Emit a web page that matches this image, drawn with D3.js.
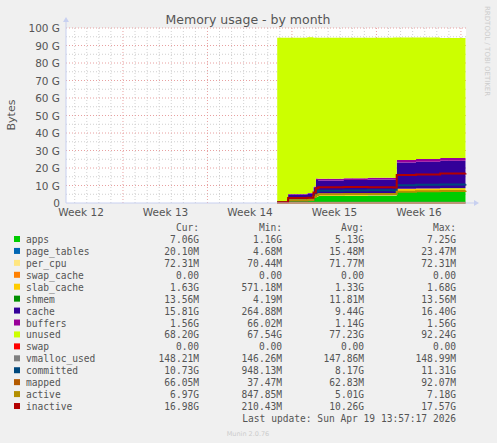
<!DOCTYPE html>
<html><head><meta charset="utf-8">
<script src="https://cdn.jsdelivr.net/npm/d3@7"></script>
<style>
body { margin: 0; background: #f0f0f0; }
text { font-family: "DejaVu Sans", sans-serif; }
.mono { font-family: "DejaVu Sans Mono", monospace; font-size: 9.6px; fill: #555; }
</style></head>
<body>
<script>
// sample times, in days since the left edge of the graph
const times = [17.5, 18.4, 20.0, 20.5, 20.7, 20.9, 23.0, 25.0, 27.1, 27.4, 29.0, 31.0, 33.1];

// stacked areas, in G
const apps       = [0.3, 1.8, 1.9, 3.0, 3.5, 4.0, 4.1, 4.2, 4.3, 6.5, 6.6, 6.8, 7.0];
const pageTables = [0.01, 0.01, 0.01, 0.015, 0.015, 0.015, 0.015, 0.015, 0.015, 0.02, 0.02, 0.02, 0.02];
const perCpu     = [0.07, 0.07, 0.07, 0.07, 0.07, 0.07, 0.07, 0.07, 0.07, 0.07, 0.07, 0.07, 0.07];
const swapCache  = [0, 0, 0, 0, 0, 0, 0, 0, 0, 0, 0, 0, 0];
const slabCache  = [0.2, 0.5, 0.6, 0.9, 1.1, 1.3, 1.3, 1.3, 1.35, 1.6, 1.6, 1.6, 1.63];
const shmem      = [0.004, 0.008, 0.01, 0.01, 0.012, 0.012, 0.012, 0.012, 0.012, 0.013, 0.013, 0.013, 0.014];
const cache      = [0.5, 2.5, 2.8, 5.0, 8.5, 7.5, 7.6, 7.8, 7.5, 15.0, 15.3, 15.6, 15.8];
const buffers    = [0.1, 0.2, 0.3, 0.5, 0.8, 0.9, 1.0, 1.0, 1.1, 1.4, 1.5, 1.55, 1.56];
const unused     = [93.3, 89.4, 89.0, 85.0, 80.5, 80.7, 80.4, 80.1, 80.2, 70.0, 69.4, 68.7, 68.2];
const swap       = [0, 0, 0, 0, 0, 0, 0, 0, 0, 0, 0, 0, 0];

// lines, in G
const vmallocUsed = [0.146, 0.147, 0.147, 0.147, 0.148, 0.148, 0.148, 0.148, 0.148, 0.148, 0.148, 0.148, 0.148];
const committed   = [0.5, 1.5, 1.8, 4.0, 6.5, 7.0, 7.2, 7.3, 7.2, 10.2, 10.4, 10.6, 10.73];
const mapped      = [0.04, 0.06, 0.06, 0.06, 0.06, 0.06, 0.06, 0.06, 0.06, 0.066, 0.066, 0.066, 0.066];
const active      = [0.3, 1.5, 1.7, 3.5, 4.5, 5.0, 5.1, 5.2, 5.2, 6.5, 6.7, 6.9, 6.97];
const inactive    = [0.5, 2.8, 3.0, 6.0, 8.5, 9.0, 9.1, 9.0, 8.8, 16.0, 16.3, 16.8, 16.98];

const weekLabels = ["Week 12", "Week 13", "Week 14", "Week 15", "Week 16"];
const weekLabelDays = [1.25, 8.25, 15.25, 22.25, 29.25];
const yTicks = [0, 10, 20, 30, 40, 50, 60, 70, 80, 90, 100];

const series = [
  { name: "apps", color: "#00CC00", v: apps, kind: "area", stats: ["7.06G", "1.16G", "5.13G", "7.25G"] },
  { name: "page_tables", color: "#0066B3", v: pageTables, kind: "area", stats: ["20.10M", "4.68M", "15.48M", "23.47M"] },
  { name: "per_cpu", color: "#FFE680", v: perCpu, kind: "area", stats: ["72.31M", "70.44M", "71.77M", "72.31M"] },
  { name: "swap_cache", color: "#FF8000", v: swapCache, kind: "area", stats: ["0.00", "0.00", "0.00", "0.00"] },
  { name: "slab_cache", color: "#FFCC00", v: slabCache, kind: "area", stats: ["1.63G", "571.18M", "1.33G", "1.68G"] },
  { name: "shmem", color: "#008F00", v: shmem, kind: "area", stats: ["13.56M", "4.19M", "11.81M", "13.56M"] },
  { name: "cache", color: "#330099", v: cache, kind: "area", stats: ["15.81G", "264.88M", "9.44G", "16.40G"] },
  { name: "buffers", color: "#990099", v: buffers, kind: "area", stats: ["1.56G", "66.02M", "1.14G", "1.56G"] },
  { name: "unused", color: "#CCFF00", v: unused, kind: "area", stats: ["68.20G", "67.54G", "77.23G", "92.24G"] },
  { name: "swap", color: "#FF0000", v: swap, kind: "area", stats: ["0.00", "0.00", "0.00", "0.00"] },
  { name: "vmalloc_used", color: "#808080", v: vmallocUsed, kind: "line", stats: ["148.21M", "146.26M", "147.86M", "148.99M"] },
  { name: "committed", color: "#00487D", v: committed, kind: "line", stats: ["10.73G", "948.13M", "8.17G", "11.31G"] },
  { name: "mapped", color: "#B35A00", v: mapped, kind: "line", stats: ["66.05M", "37.47M", "62.83M", "92.07M"] },
  { name: "active", color: "#B38F00", v: active, kind: "line", stats: ["6.97G", "847.85M", "5.01G", "7.18G"] },
  { name: "inactive", color: "#B30000", v: inactive, kind: "line", stats: ["16.98G", "210.43M", "10.26G", "17.57G"] }
];

const W = 497, H = 443;
const M = { left: 66, top: 28, right: 466, bottom: 203 };

const svg = d3.select("body").append("svg").attr("width", W).attr("height", H);

const x = d3.scaleLinear().domain([0, 33.14]).range([M.left, M.right]);
const y = d3.scaleLinear().domain([0, 100]).range([M.bottom, M.top]);

// plot background
svg.append("rect").attr("x", M.left).attr("y", M.top)
  .attr("width", M.right - M.left).attr("height", M.bottom - M.top).attr("fill", "white");

// grid
const grid = svg.append("g");
for (let d = 4.72 - 4; d < 33.14; d += 1) {
  const major = Math.abs(((d - 4.72) % 7 + 7) % 7) < 0.01;
  grid.append("line").attr("x1", x(d)).attr("x2", x(d)).attr("y1", M.top).attr("y2", M.bottom)
    .attr("stroke", major ? "#e8a0a0" : "#d0d0d0").attr("stroke-dasharray", "1,2");
}
for (let g = 5; g <= 100; g += 5) {
  grid.append("line").attr("x1", M.left).attr("x2", M.right).attr("y1", y(g)).attr("y2", y(g))
    .attr("stroke", g % 10 === 0 ? "#e8a0a0" : "#d0d0d0").attr("stroke-dasharray", "1,2");
}

// stacked areas
const rows = times.map((t, i) => {
  const r = { t };
  series.forEach(s => { r[s.name] = s.v[i]; });
  return r;
});
const areaKeys = series.filter(s => s.kind === "area").map(s => s.name);
const stacked = d3.stack().keys(areaKeys)(rows);
const area = d3.area().curve(d3.curveStepAfter)
  .x(d => x(d.data.t)).y0(d => y(d[0])).y1(d => y(d[1]));
stacked.forEach((layer, i) => {
  svg.append("path").datum(layer).attr("d", area)
    .attr("fill", series.find(s => s.name === areaKeys[i]).color);
});

// lines
const line = d3.line().curve(d3.curveStepAfter);
series.filter(s => s.kind === "line").forEach(s => {
  svg.append("path").datum(s.v.map((v, i) => [x(times[i]), y(v)]))
    .attr("d", line).attr("fill", "none").attr("stroke", s.color).attr("stroke-width", 2);
});

// axes
svg.append("line").attr("x1", M.left).attr("x2", M.right + 8).attr("y1", M.bottom).attr("y2", M.bottom)
  .attr("stroke", "#c8d0f0");
svg.append("line").attr("x1", M.left).attr("x2", M.left).attr("y1", M.top - 6).attr("y2", M.bottom)
  .attr("stroke", "#c8d0f0");
svg.append("path").attr("d", `M${M.right + 8},${M.bottom - 3}L${M.right + 13},${M.bottom}L${M.right + 8},${M.bottom + 3}Z`).attr("fill", "#c8d0f0");
svg.append("path").attr("d", `M${M.left - 3},${M.top - 6}L${M.left},${M.top - 11}L${M.left + 3},${M.top - 6}Z`).attr("fill", "#c8d0f0");

yTicks.forEach(t => {
  svg.append("text").attr("x", M.left - 6).attr("y", y(t) + 4).attr("text-anchor", "end")
    .attr("font-size", 10.5).attr("fill", "#555").text(t === 0 ? "0" : `${t} G`);
});
weekLabels.forEach((l, i) => {
  svg.append("text").attr("x", x(weekLabelDays[i])).attr("y", M.bottom + 13).attr("text-anchor", "middle")
    .attr("font-size", 10.5).attr("fill", "#555").text(l);
});

svg.append("text").attr("x", 248).attr("y", 24).attr("text-anchor", "middle")
  .attr("font-size", 12.5).attr("fill", "#555").text("Memory usage - by month");
svg.append("text").attr("transform", "translate(15,115) rotate(-90)").attr("text-anchor", "middle")
  .attr("font-size", 11).attr("fill", "#555").text("Bytes");
svg.append("text").attr("transform", "translate(485,6) rotate(90)").attr("font-size", 7)
  .attr("fill", "#ccc").text("RRDTOOL / TOBI OETIKER");

// legend
const colX = [199, 282, 364, 456];
["Cur:", "Min:", "Avg:", "Max:"].forEach((h, i) => {
  svg.append("text").attr("class", "mono").attr("x", colX[i]).attr("y", 231).attr("text-anchor", "end").text(h);
});
series.forEach((s, i) => {
  const yy = 243 + i * 11.93;
  svg.append("rect").attr("x", 14).attr("y", yy - 7).attr("width", 6).attr("height", 6).attr("fill", s.color);
  svg.append("text").attr("class", "mono").attr("x", 26).attr("y", yy).text(s.name);
  s.stats.forEach((v, j) => {
    svg.append("text").attr("class", "mono").attr("x", colX[j]).attr("y", yy).attr("text-anchor", "end").text(v);
  });
});
svg.append("text").attr("class", "mono").attr("x", 456).attr("y", 422).attr("text-anchor", "end")
  .text("Last update: Sun Apr 19 13:57:17 2026");
svg.append("text").attr("x", 248).attr("y", 436).attr("text-anchor", "middle")
  .attr("font-size", 6.5).attr("fill", "#ccc").text("Munin 2.0.76");
</script>
</body></html>
